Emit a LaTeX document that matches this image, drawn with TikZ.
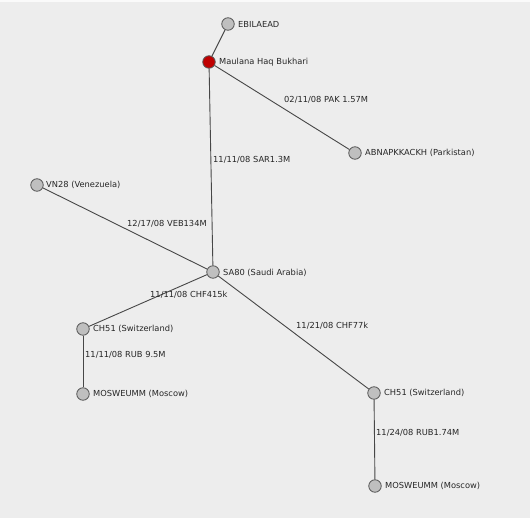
\documentclass[tikz,border=0pt]{standalone}
\usepackage{fontspec}
\setmainfont{DejaVu Sans}
\begin{document}
\begin{tikzpicture}[x=1pt,y=-1pt,
  vert/.style={circle,draw=black!65,fill=black!25,line width=0.8pt,minimum size=12.5pt,inner sep=0pt},
  redvert/.style={vert,fill=red!75!black},
  lab/.style={anchor=west,inner sep=0pt,font=\fontsize{8.3}{10}\selectfont,text=black!85},
  elab/.style={lab},
  edge/.style={draw=black!72,line width=0.9pt}]
\fill[black!7] (0,0) rectangle (530,518);
\fill[black!2] (0,0) rectangle (530,2.5);
\useasboundingbox (0,0) rectangle (530,518);
% vertices
\node[vert] (eb) at (228,24) {};
\node[redvert] (mh) at (209,62) {};
\node[vert] (ab) at (355,153) {};
\node[vert] (vn) at (37,185) {};
\node[vert] (sa) at (213,272) {};
\node[vert] (chl) at (83,329) {};
\node[vert] (mol) at (83,394) {};
\node[vert] (chr) at (374,393) {};
\node[vert] (mor) at (375,486) {};
% edges
\path[edge] (eb) -- (mh);
\path[edge] (mh) -- (ab);
\path[edge] (mh) -- (sa);
\path[edge] (vn) -- (sa);
\path[edge] (sa) -- (chl);
\path[edge] (chl) -- (mol);
\path[edge] (sa) -- (chr);
\path[edge] (chr) -- (mor);
% vertex labels
\node[lab] (leb) at (238,24) {EBILAEAD};
\node[lab] (lmh) at (219,62) {Maulana Haq Bukhari};
\node[lab] (lab1) at (365,153) {ABNAPKKACKH (Parkistan)};
\node[lab] (lvn) at (46,185) {VN28 (Venezuela)};
\node[lab] (lsa) at (223,273) {SA80 (Saudi Arabia)};
\node[lab] (lchl) at (93,329) {CH51 (Switzerland)};
\node[lab] (lmol) at (93,394) {MOSWEUMM (Moscow)};
\node[lab] (lchr) at (384,393) {CH51 (Switzerland)};
\node[lab] (lmor) at (385,486) {MOSWEUMM (Moscow)};
% edge labels
\node[elab] (e1) at (284,100) {02/11/08 PAK 1.57M};
\node[elab] (e2) at (213,160) {11/11/08 SAR1.3M};
\node[elab] (e3) at (127,224) {12/17/08 VEB134M};
\node[elab] (e4) at (150,295) {11/11/08 CHF415k};
\node[elab] (e5) at (296,326) {11/21/08 CHF77k};
\node[elab] (e6) at (85,355) {11/11/08 RUB 9.5M};
\node[elab] (e7) at (376,433) {11/24/08 RUB1.74M};
\end{tikzpicture}
\end{document}
